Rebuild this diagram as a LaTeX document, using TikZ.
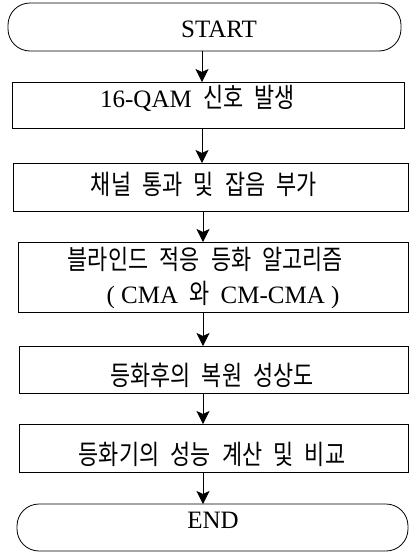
\documentclass[tikz,border=0pt]{standalone}
\usepackage{fontspec}
\setmainfont{Liberation Serif}
\newfontfamily\kr[FakeStretch=0.81,WordSpace=2.3]{Noto Sans CJK KR}
\usetikzlibrary{arrows.meta}
\begin{document}
\begin{tikzpicture}[x=1pt,y=-1pt,
  box/.style={draw=black, line width=0.8pt, inner sep=0pt, outer sep=0pt},
  term/.style={box, rounded corners=22pt},
  txt/.style={inner sep=0pt, anchor=base, font=\fontsize{25}{30}\selectfont},
  ktxt/.style={txt, font=\fontsize{27}{30}\selectfont},
  arr/.style={draw=black, line width=0.8pt, -{Stealth[length=13pt,width=13pt,inset=3pt]}}]
\useasboundingbox (0,0) rectangle (409,552);
% shapes
\node[term, minimum width=393pt, minimum height=48pt] (st) at (204.5,27) {};
\node[box, minimum width=392pt, minimum height=46pt] (b1) at (208,105) {};
\node[box, minimum width=395.5pt, minimum height=48pt] (b2) at (210.75,187) {};
\node[box, minimum width=390.5pt, minimum height=70pt] (b3) at (213.25,277) {};
\node[box, minimum width=389.5pt, minimum height=47pt] (b4) at (213.75,369.5) {};
\node[box, minimum width=389.5pt, minimum height=48pt] (b5) at (213.75,448) {};
\node[term, minimum width=391pt, minimum height=47pt] (en) at (212.5,527.5) {};
% texts
\node[txt] (tst) at (219,37) {START};
\node[txt] (t1) at (197.5,107) {16-QAM{\fontsize{27}{30}\kr{} 신호 발생}};
\node[ktxt] (t2) at (204,194) {\kr 채널 통과 및 잡음 부가};
\node[ktxt] (t3a) at (205.5,269.5) {\kr 블라인드 적응 등화 알고리즘};
\node[txt] (t3b) at (223,303) {( CMA{\fontsize{27}{30}\kr{} 와 }CM-CMA )};
\node[ktxt] (t4) at (212,385) {\kr 등화후의 복원 성상도};
\node[ktxt] (t5) at (212,464) {\kr 등화기의 성능 계산 및 비교};
\node[txt] (ten) at (213,528) {END};
% connectors
\coordinate (ax1) at (202,0);
\coordinate (ax2) at (203,0);
\draw[arr] (st.south -| ax1) -- (b1.north -| ax1);
\draw[arr] (b1.south -| ax1) -- (b2.north -| ax1);
\draw[arr] (b2.south -| ax2) -- (b3.north -| ax2);
\draw[arr] (b3.south -| ax2) -- (b4.north -| ax2);
\draw[arr] (b4.south -| ax2) -- (b5.north -| ax2);
\draw[arr] (b5.south -| ax2) -- (en.north -| ax2);
\end{tikzpicture}
\end{document}
